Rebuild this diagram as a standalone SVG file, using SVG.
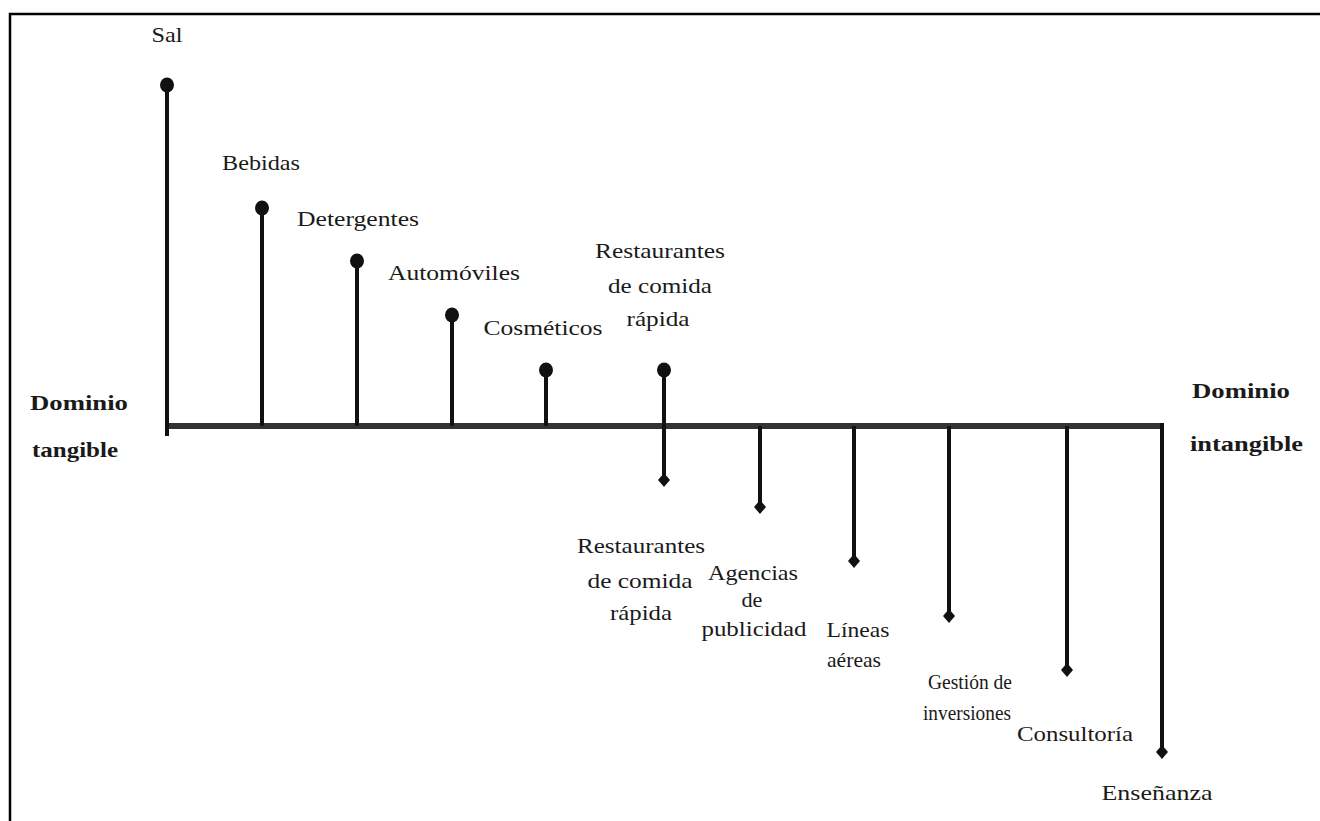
<svg xmlns="http://www.w3.org/2000/svg" width="1320" height="821" viewBox="0 0 1320 821">
<style>
  text { font-family: "Liberation Serif", "DejaVu Serif", serif; font-size: 22px; fill: #1a1a1a; text-anchor: middle; }
  .dom { font-size: 22px; font-weight: bold; text-anchor: start; }
  .stem { stroke: #111; stroke-width: 4; fill: none; }
  .axis { stroke: #333; stroke-width: 6; fill: none; }
  .dot { fill: #111; }
</style>
<defs>
  <ellipse id="knob" rx="7" ry="7.5" class="dot"/>
  <path id="dia" d="M0,-7 L6,0 L0,7 L-6,0 Z" class="dot"/>
</defs>
<rect x="0" y="0" width="1320" height="821" fill="#fff"/>
<path d="M10,821 L10,14 L1320,14" stroke="#000" stroke-width="2.5" fill="none"/>

<g id="connectors">
  <line class="axis" x1="166" y1="426" x2="1162" y2="426"/>
  <line class="stem" x1="167" y1="85" x2="167" y2="436"/>
  <line class="stem" x1="262" y1="208" x2="262" y2="426"/>
  <line class="stem" x1="357" y1="261" x2="357" y2="426"/>
  <line class="stem" x1="452" y1="315" x2="452" y2="426"/>
  <line class="stem" x1="546" y1="370" x2="546" y2="426"/>
  <line class="stem" x1="664" y1="370" x2="664" y2="480"/>
  <line class="stem" x1="760" y1="426" x2="760" y2="507"/>
  <line class="stem" x1="854" y1="426" x2="854" y2="561"/>
  <line class="stem" x1="949" y1="426" x2="949" y2="616"/>
  <line class="stem" x1="1067" y1="426" x2="1067" y2="670"/>
  <line class="stem" x1="1162" y1="423" x2="1162" y2="752"/>
</g>

<g id="sal"><use href="#knob" x="167" y="85"/><text x="167" y="42" textLength="31" lengthAdjust="spacingAndGlyphs">Sal</text></g>
<g id="bebidas"><use href="#knob" x="262" y="208"/><text x="261" y="170" textLength="78" lengthAdjust="spacingAndGlyphs">Bebidas</text></g>
<g id="detergentes"><use href="#knob" x="357" y="261"/><text x="358" y="226" textLength="122" lengthAdjust="spacingAndGlyphs">Detergentes</text></g>
<g id="automoviles"><use href="#knob" x="452" y="315"/><text x="454" y="280" textLength="132" lengthAdjust="spacingAndGlyphs">Automóviles</text></g>
<g id="cosmeticos"><use href="#knob" x="546" y="370"/><text x="543" y="335" textLength="119" lengthAdjust="spacingAndGlyphs">Cosméticos</text></g>
<g id="restaurantes-top"><use href="#knob" x="664" y="370"/>
  <text x="660" y="258" textLength="130" lengthAdjust="spacingAndGlyphs">Restaurantes</text>
  <text x="660" y="293" textLength="104" lengthAdjust="spacingAndGlyphs">de comida</text>
  <text x="658" y="326" textLength="63" lengthAdjust="spacingAndGlyphs">rápida</text>
</g>
<g id="restaurantes-bottom"><use href="#dia" x="664" y="480"/>
  <text x="641" y="553" textLength="128" lengthAdjust="spacingAndGlyphs">Restaurantes</text>
  <text x="640" y="588" textLength="105" lengthAdjust="spacingAndGlyphs">de comida</text>
  <text x="641" y="620" textLength="62" lengthAdjust="spacingAndGlyphs">rápida</text>
</g>
<g id="agencias"><use href="#dia" x="760" y="507"/>
  <text x="753" y="580" textLength="90" lengthAdjust="spacingAndGlyphs">Agencias</text>
  <text x="752" y="607" textLength="21" lengthAdjust="spacingAndGlyphs">de</text>
  <text x="754" y="636" textLength="105" lengthAdjust="spacingAndGlyphs">publicidad</text>
</g>
<g id="lineas"><use href="#dia" x="854" y="561"/>
  <text x="858" y="637" textLength="63" lengthAdjust="spacingAndGlyphs">Líneas</text>
  <text x="854" y="667" textLength="54" lengthAdjust="spacingAndGlyphs">aéreas</text>
</g>
<g id="gestion"><use href="#dia" x="949" y="616"/>
  <text x="970" y="689" textLength="84" lengthAdjust="spacingAndGlyphs">Gestión de</text>
  <text x="967" y="720" textLength="88" lengthAdjust="spacingAndGlyphs">inversiones</text>
</g>
<g id="consultoria"><use href="#dia" x="1067" y="670"/><text x="1075" y="741" textLength="116" lengthAdjust="spacingAndGlyphs">Consultoría</text></g>
<g id="ensenanza"><use href="#dia" x="1162" y="752"/><text x="1157" y="800" textLength="111" lengthAdjust="spacingAndGlyphs">Enseñanza</text></g>

<g id="dominio-tangible">
  <text class="dom" x="30" y="410" textLength="98" lengthAdjust="spacingAndGlyphs">Dominio</text>
  <text class="dom" x="32" y="457" textLength="86" lengthAdjust="spacingAndGlyphs">tangible</text>
</g>
<g id="dominio-intangible">
  <text class="dom" x="1192" y="398" textLength="98" lengthAdjust="spacingAndGlyphs">Dominio</text>
  <text class="dom" x="1190" y="451" textLength="113" lengthAdjust="spacingAndGlyphs">intangible</text>
</g>
</svg>
